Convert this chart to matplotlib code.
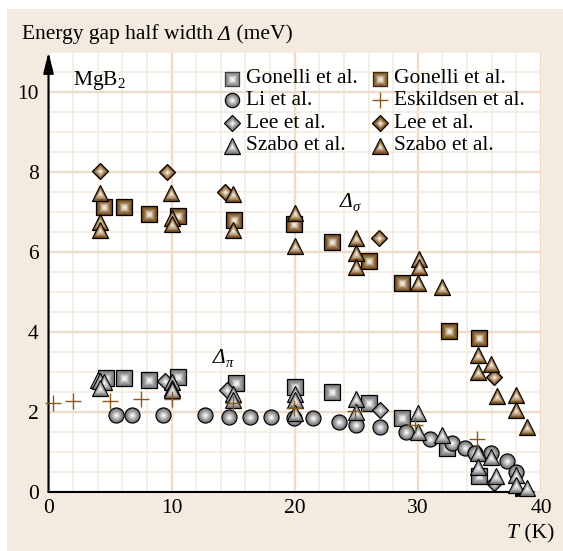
import matplotlib
matplotlib.use("Agg")
import matplotlib.pyplot as plt
from matplotlib.patches import Rectangle
from matplotlib.colors import to_rgb
from matplotlib.transforms import ScaledTranslation

plt.rcParams['font.family'] = 'serif'
plt.rcParams['font.serif'] = ['Liberation Serif']
plt.rcParams['mathtext.fontset'] = 'custom'
plt.rcParams['mathtext.rm'] = 'Liberation Serif'
plt.rcParams['mathtext.it'] = 'Liberation Serif:italic'
plt.rcParams['mathtext.bf'] = 'Liberation Serif:bold'
FS = 15.5
plt.rcParams['font.size'] = FS

# pi-gap (grey markers)
gonelli_pi_T = [4.7, 6.1, 8.2, 10.5, 15.2, 20.0, 23.0, 26.0, 28.7, 32.4, 35.0]
gonelli_pi_D = [2.84, 2.84, 2.8, 2.87, 2.73, 2.62, 2.51, 2.23, 1.84, 1.09, 0.40]

li_T = [5.5, 6.8, 9.3, 12.7, 14.7, 16.35, 18.1, 19.9, 21.5, 23.6, 25.0, 26.95,
        29.0, 31.0, 32.8, 33.8, 34.6, 35.9, 37.2, 38.0]
li_D = [1.93, 1.93, 1.93, 1.93, 1.87, 1.87, 1.88, 1.84, 1.84, 1.76, 1.68, 1.63,
        1.51, 1.32, 1.23, 1.09, 0.98, 0.97, 0.78, 0.51]

lee_pi_T = [9.5, 14.5, 26.9, 36.2]
lee_pi_D = [2.78, 2.55, 2.05, 0.23]

szabo_pi_T = [4.0, 4.2, 4.5, 4.2, 10.0, 10.0, 10.0, 15.0, 15.0, 20.0, 20.0, 20.0,
              25.0, 25.0, 30.0, 30.0, 32.0, 34.9, 34.9, 35.9, 36.35, 37.96, 37.96, 38.9]
szabo_pi_D = [2.8, 2.78, 2.76, 2.59, 2.76, 2.59, 2.55, 2.45, 2.3, 2.45, 2.3, 1.98,
              2.32, 2.0, 1.97, 1.51, 1.43, 0.97, 0.63, 0.87, 0.40, 0.43, 0.18, 0.09]

eskildsen_T = [0.35, 1.95, 5.0, 7.5, 10.0, 15.0, 19.9, 24.9, 29.8, 34.8]
eskildsen_D = [2.22, 2.27, 2.28, 2.32, 2.33, 2.22, 2.09, 2.03, 1.68, 1.32]

# sigma-gap (brown markers)
gonelli_sig_T = [4.5, 6.1, 8.2, 10.5, 15.1, 19.9, 23.0, 26.0, 28.7, 32.5, 35.0]
gonelli_sig_D = [7.13, 7.13, 6.94, 6.91, 6.8, 6.7, 6.26, 5.78, 5.23, 4.02, 3.85]

lee_sig_T = [4.2, 9.6, 14.3, 26.85, 36.2]
lee_sig_D = [8.02, 8.0, 7.5, 6.36, 2.88]

szabo_sig_T = [4.2, 4.2, 4.2, 9.94, 10.0, 10.0, 15.0, 15.0, 20.0, 20.0, 25.0, 25.0,
               25.0, 30.07, 30.07, 30.0, 31.96, 34.9, 35.9, 34.9, 36.4, 37.96, 37.96, 38.9]
szabo_sig_D = [7.48, 6.75, 6.55, 7.48, 6.85, 6.7, 7.45, 6.55, 6.97, 6.15, 6.36, 5.98,
               5.62, 5.82, 5.63, 5.22, 5.12, 3.42, 3.19, 3.01, 2.41, 2.42, 2.05, 1.62]

legend_labels = ['Gonelli et al.', 'Li et al.', 'Lee et al.', 'Szabo et al.',
                 'Gonelli et al.', 'Eskildsen et al.', 'Lee et al.', 'Szabo et al.']

GREY = ('#6f6f6f', '#fbfbfb')
BROWN = ('#6a3f0c', '#fcf3e6')
CROSS = '#8a5a1c'
MS = {'s': 11.2, 'o': 10.8, 'D': 8.4, '^': 11.6}

zc = [10]


def mix(c1, c2, f):
    a, b = to_rgb(c1), to_rgb(c2)
    return tuple(a[i] + (b[i] - a[i]) * f for i in range(3))


# shaded marker: dark outlined body, lighter layers towards the middle
def shaded(ax, x, y, marker, colors, ms=None, clip=True):
    ms = ms or MS[marker]
    dark, light = colors
    ax.plot(x, y, marker, ms=ms, mfc=dark, mec='black', mew=0.9,
            zorder=zc[0], clip_on=clip)
    n = 8
    for k in range(1, n + 1):
        f = k / n
        ax.plot(x, y, marker, ms=ms * (1 - 0.88 * f), mfc=mix(dark, light, f ** 1.1),
                mec='none', zorder=zc[0] + 0.01 * k, clip_on=clip)
    zc[0] += 0.1


def cross(ax, x, y, clip=True):
    ax.plot(x, y, '+', ms=11.5, mew=1.0, color=CROSS, zorder=zc[0], clip_on=clip)
    zc[0] += 0.1


# text made of pieces (italic capital Delta is not available in mathtext)
def rich(fig, x, y, parts, transform):
    r = fig.canvas.get_renderer()
    dx = 0.0
    for s, style, scale, dy in parts:
        tr = transform + ScaledTranslation(dx / 72, dy / 72, fig.dpi_scale_trans)
        t = fig.text(x, y, s, transform=tr, fontstyle=style, fontsize=FS * scale,
                     va='baseline', ha='left', zorder=50)
        dx += t.get_window_extent(r).width * 72 / fig.dpi


fig = plt.figure(figsize=(5.63, 5.51), dpi=100, facecolor='white')
fig.patches.append(Rectangle((7 / 563, 0), 1, 1 - 9 / 551, transform=fig.transFigure,
                             facecolor='#f3ebdf', edgecolor='none', zorder=-10))

ax = fig.add_axes([48.5 / 563, 1 - 492 / 551, (541 - 48.5) / 563, (492 - 52) / 551])
ax.set_facecolor('white')
ax.set_xlim(0, 40)
ax.set_ylim(0, 11)

ax.set_xticks([0, 10, 20, 30, 40])
ax.set_yticks([0, 2, 4, 6, 8, 10])
ax.set_xticks([t for t in range(0, 41, 2) if t % 10], minor=True)
ax.set_yticks([v * 0.5 for v in range(23) if v % 4], minor=True)
ax.grid(which='minor', color='#f4e8db', lw=1.1)
ax.grid(which='major', color='#ecdcc9', lw=1.7)
ax.set_axisbelow(True)
ax.tick_params(which='both', length=0)
ax.tick_params(axis='x', pad=5)
ax.tick_params(axis='y', pad=7)
for s in ax.spines.values():
    s.set_visible(False)

# axis lines with arrow heads
arrow = dict(arrowstyle='-|>,head_length=0.9,head_width=0.22', lw=1.5,
             color='black', shrinkA=0, shrinkB=0, mutation_scale=14)
ax.annotate('', xy=(0, 11.0), xytext=(0, 0), arrowprops=arrow, annotation_clip=False)
ax.annotate('', xy=(39.75, 0), xytext=(0, 0), arrowprops=arrow, annotation_clip=False)

# data
for t, d in zip(gonelli_pi_T, gonelli_pi_D):
    shaded(ax, t, d, 's', GREY)
for t, d in zip(li_T, li_D):
    shaded(ax, t, d, 'o', GREY)
for t, d in zip(lee_pi_T, lee_pi_D):
    shaded(ax, t, d, 'D', GREY)
for t, d in zip(szabo_pi_T, szabo_pi_D):
    shaded(ax, t, d, '^', GREY, clip=False)
for t, d in zip(eskildsen_T, eskildsen_D):
    cross(ax, t, d, clip=False)
for t, d in zip(gonelli_sig_T, gonelli_sig_D):
    shaded(ax, t, d, 's', BROWN)
for t, d in zip(lee_sig_T, lee_sig_D):
    shaded(ax, t, d, 'D', BROWN)
for t, d in zip(szabo_sig_T, szabo_sig_D):
    shaded(ax, t, d, '^', BROWN)

# legend, two columns
rows = [10.33, 9.79, 9.22, 8.66]
left_kinds = [('s', GREY), ('o', GREY), ('D', GREY), ('^', GREY)]
right_kinds = [('s', BROWN), ('+', None), ('D', BROWN), ('^', BROWN)]
for i, y in enumerate(rows):
    m, c = left_kinds[i]
    shaded(ax, 14.9, y, m, c, ms=MS[m] * 0.95)
    ax.text(16.05, y, legend_labels[i], va='center', ha='left')
    m, c = right_kinds[i]
    if m == '+':
        cross(ax, 26.9, y)
    else:
        shaded(ax, 26.9, y, m, c, ms=MS[m] * 0.95)
    ax.text(28.1, y, legend_labels[4 + i], va='center', ha='left')

ax.text(1.95, 10.28, 'MgB$_2$', va='center', ha='left')
rich(fig, 23.65, 7.12, [('Δ', 'italic', 1.0, 0), ('σ', 'italic', 0.68, -3)], ax.transData)
rich(fig, 13.35, 3.23, [('Δ', 'italic', 1.0, 0), ('π', 'italic', 0.68, -3)], ax.transData)

rich(fig, 21.7 / 563, 1 - 39.5 / 551,
     [('Energy gap half width ', 'normal', 1.0, 0), ('Δ', 'italic', 1.0, 0),
      (' (meV)', 'normal', 1.0, 0)], fig.transFigure)
rich(fig, 507 / 563, 1 - 538 / 551,
     [('T', 'italic', 1.0, 0), (' (K)', 'normal', 1.0, 0)], fig.transFigure)

fig.savefig('out.png', dpi=100, facecolor=fig.get_facecolor())
